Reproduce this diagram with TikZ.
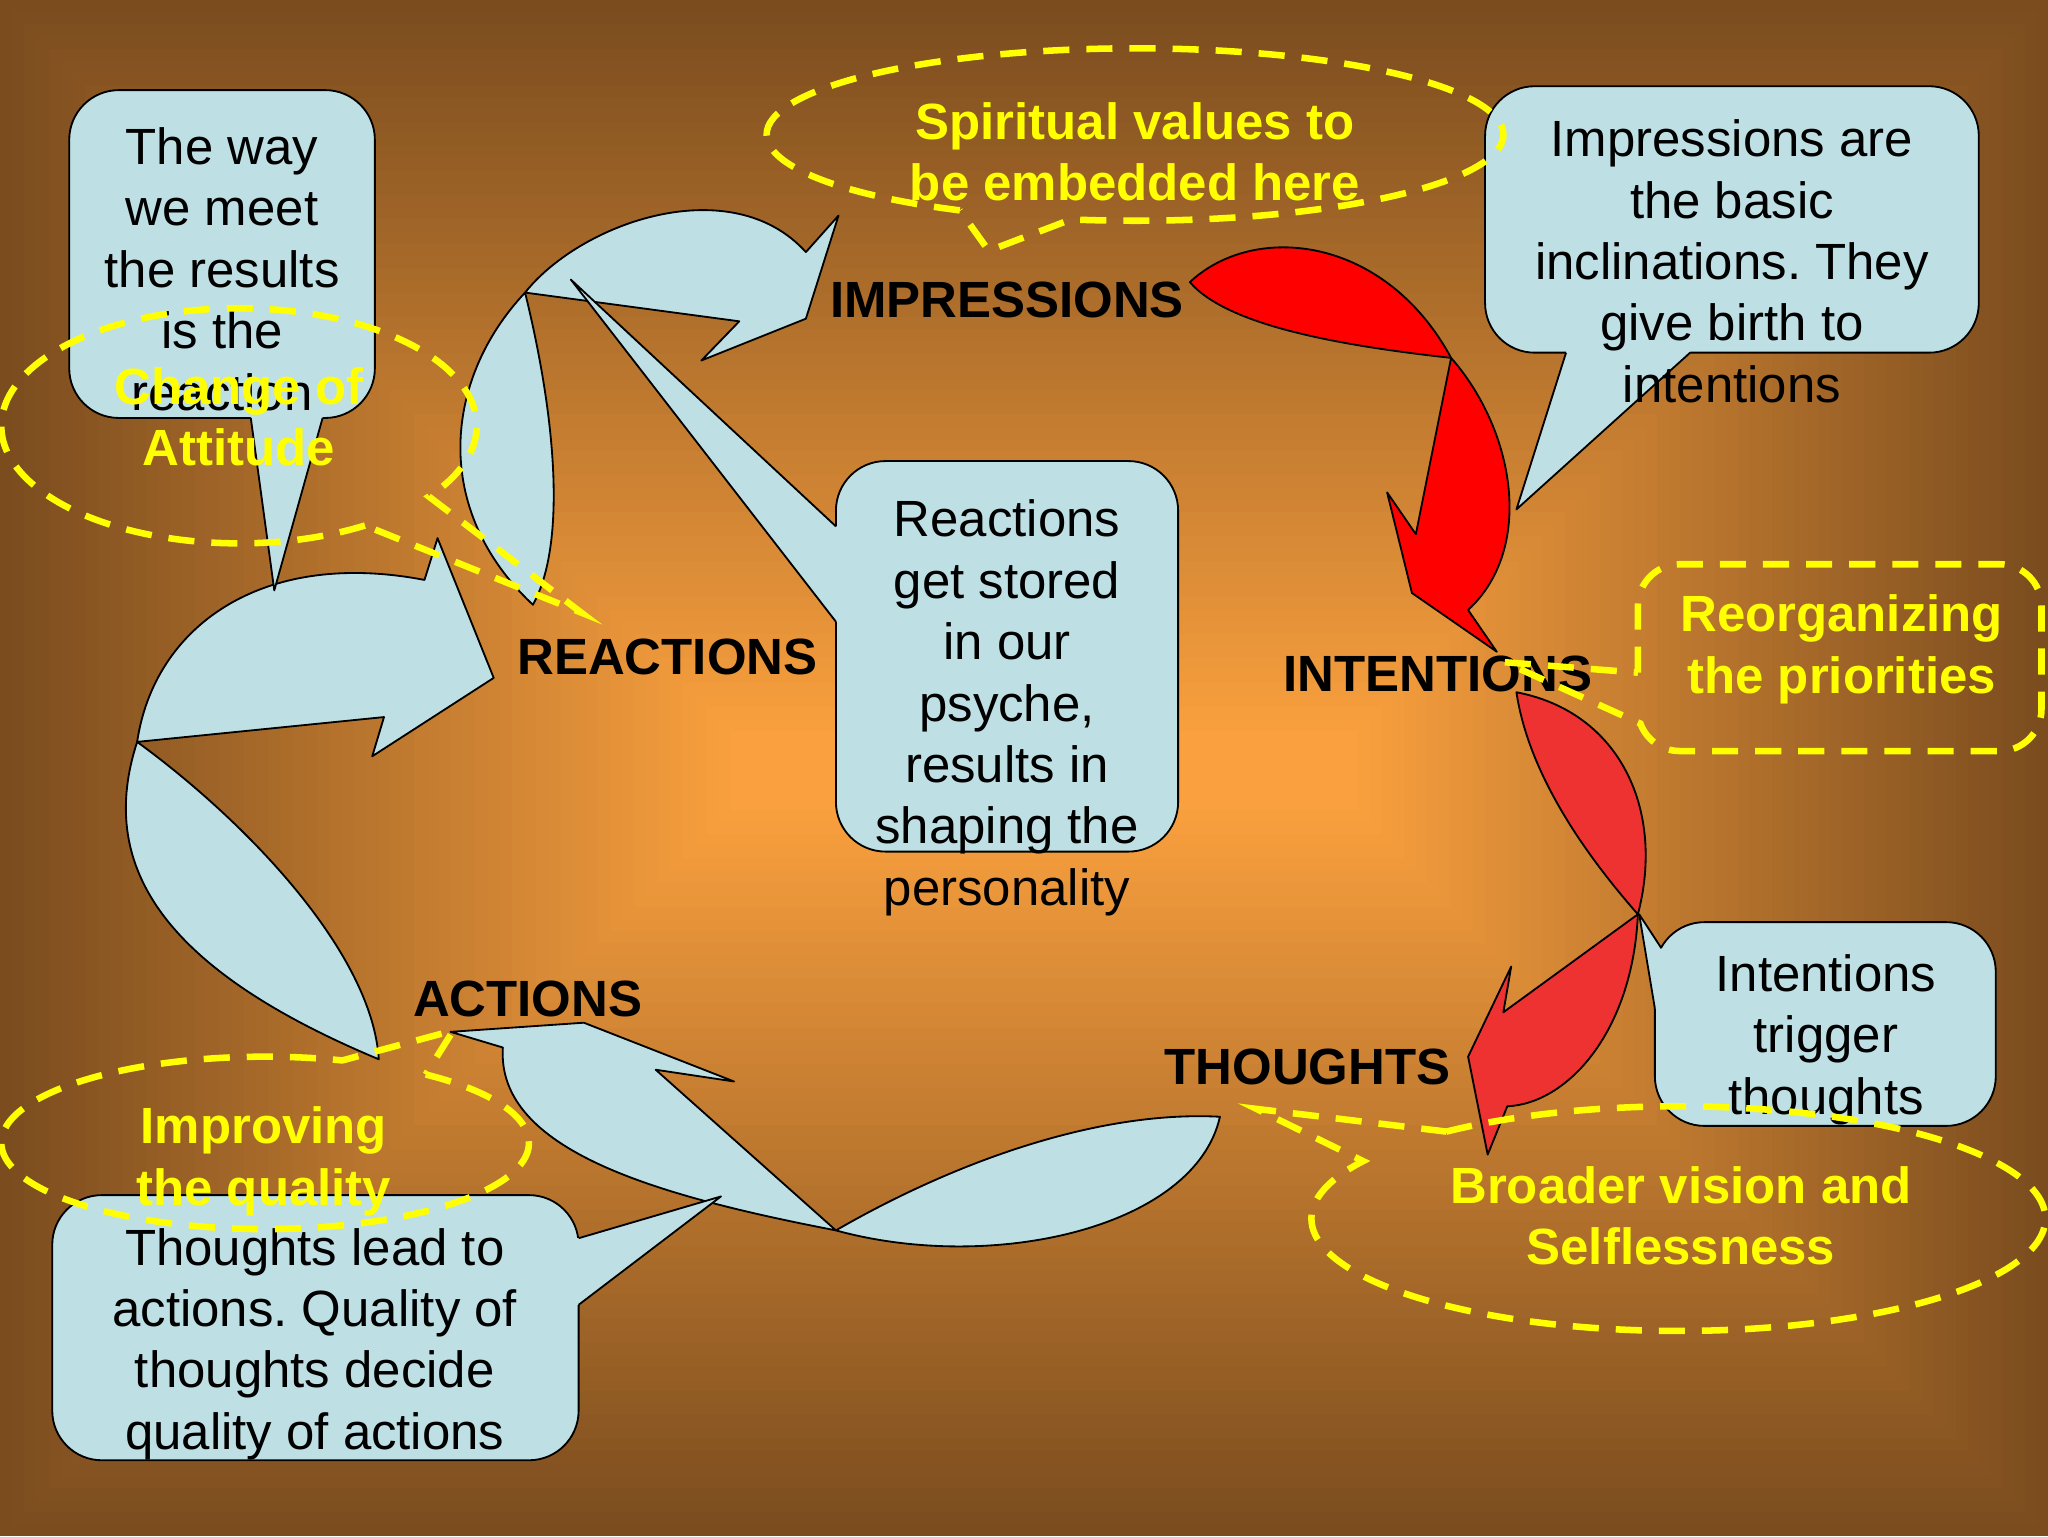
\documentclass[tikz,border=0pt]{standalone}
\usepackage{fontspec}
\setmainfont{Liberation Sans}
\frenchspacing
\definecolor{bge}{RGB}{122,76,30}
\definecolor{bgc}{RGB}{250,160,62}
\definecolor{cfill}{RGB}{190,224,228}
\definecolor{redA}{RGB}{255,0,0}
\definecolor{redB}{RGB}{238,50,50}
\definecolor{yel}{RGB}{255,255,0}
\begin{document}
\begin{tikzpicture}[x=1pt,y=-1pt,
  outl/.style={draw=black,line width=1.4pt,line join=round},
  blueshape/.style={outl,fill=cfill},
  redshapeA/.style={outl,fill=redA},
  redshapeB/.style={outl,fill=redB},
  calloutbox/.style={outl,fill=cfill,rounded corners=38pt},
  tailfill/.style={fill=cfill},
  tailline/.style={draw=black,line width=1.4pt,line join=round},
  ydash/.style={draw=yel,line width=5pt,dash pattern=on 20pt off 13pt},
  bodytext/.style={font=\fontsize{39}{47}\selectfont,align=center,inner sep=0pt,text=black},
  ytext/.style={font=\fontsize{39}{47}\selectfont\bfseries,align=center,inner sep=0pt,text=yel},
  cyclelabel/.style={font=\fontsize{39}{47}\selectfont\bfseries,inner sep=0pt,text=black}]
\useasboundingbox (0,0) rectangle (1568,1176);
% background: rectangular gradient
\fill[bge] (0,0) rectangle (1568,1176);
\foreach \i in {1,...,60}{
  \pgfmathsetmacro\t{\i/60}
  \pgfmathsetmacro\pc{100*\t}
  \pgfmathsetmacro\xa{560*\t}
  \pgfmathsetmacro\ya{560*\t}
  \pgfmathsetmacro\xb{1568-528*\t}
  \pgfmathsetmacro\yb{1176-556*\t}
  \fill[bgc!\pc!bge] (\xa,\ya) rectangle (\xb,\yb);
}
% light blue cycle shapes
\path[blueshape] (105,568) .. controls (118,480) and (200,420) .. (325,444)
  -- (335,412) -- (378,519) -- (285,579) -- (294,549) -- cycle;
\path[blueshape] (105,568) .. controls (75,660) and (120,740) .. (290,811)
  .. controls (285,730) and (190,630) .. (105,568) -- cycle;
\path[blueshape] (402,224) .. controls (445,170) and (560,130) .. (617,193)
  -- (642,165) -- (617,244) -- (537,276) -- (566,246) -- cycle;
\path[blueshape] (402,224) .. controls (340,290) and (330,390) .. (408,463)
  .. controls (432,420) and (428,330) .. (402,224) -- cycle;
\path[blueshape] (345,790) -- (447,783) -- (562,828) -- (502,819) -- (640,942)
  .. controls (500,915) and (380,880) .. (385,802) -- cycle;
\path[blueshape] (640,942) .. controls (730,890) and (840,850) .. (934,855)
  .. controls (915,940) and (760,975) .. (640,942) -- cycle;
% callout boxes
\path[calloutbox] (53,69) rectangle (287,320);
\fill[tailfill] (192,320) -- (210,452) -- (247,320) -- (247,312) -- (192,312) -- cycle;
\draw[tailline] (192,320) -- (210,452) -- (247,320);
\path[calloutbox] (1137,66) rectangle (1515,270);
\fill[tailfill] (1199,270) -- (1161,390) -- (1294,270) -- (1294,262) -- (1199,262) -- cycle;
\draw[tailline] (1199,270) -- (1161,390) -- (1294,270);
\path[calloutbox] (640,353) rectangle (902,652);
\fill[tailfill] (640,403) -- (437,214) -- (640,476) -- (648,476) -- (648,403) -- cycle;
\draw[tailline] (640,403) -- (437,214) -- (640,476);
\path[calloutbox] (1267,706) rectangle (1528,862);
\fill[tailfill] (1272,726) -- (1255,700) -- (1267,772) -- (1275,772) -- (1279,730) -- cycle;
\draw[tailline] (1272,726) -- (1255,700) -- (1267,772);
\path[calloutbox] (40,915) rectangle (443,1118);
\fill[tailfill] (443,948) -- (552,916) -- (443,999) -- (435,999) -- (435,948) -- cycle;
\draw[tailline] (443,948) -- (552,916) -- (443,999);
% red shapes
\path[redshapeA] (911,216) .. controls (960,170) and (1060,180) .. (1111,274)
  .. controls (1030,265) and (940,250) .. (911,216) -- cycle;
\path[redshapeA] (1111,274) .. controls (1160,330) and (1175,420) .. (1124,467)
  -- (1146,499) -- (1081,454) -- (1062,377) -- (1084,409) -- cycle;
\path[redshapeB] (1161,530) .. controls (1240,545) and (1275,620) .. (1254,700)
  .. controls (1210,650) and (1170,590) .. (1161,530) -- cycle;
\path[redshapeB] (1254,700) .. controls (1250,790) and (1200,845) .. (1154,847)
  -- (1139,884) -- (1124,809) -- (1157,740) -- (1151,775) -- cycle;
% texts in callouts
\node[bodytext] (tA) at (170,206) {The way\\we meet\\the results\\is the\\reaction};
\node[bodytext] (tB) at (1326,200) {Impressions are\\the basic\\inclinations. They\\give birth to\\intentions};
\node[bodytext] (tC) at (771,542) {Reactions\\get stored\\in our\\psyche,\\results in\\shaping the\\personality};
\node[bodytext] (tD) at (1398,796) {Intentions\\trigger\\thoughts};
\node[bodytext] (tE) at (241,1029) {Thoughts lead to\\actions. Quality of\\thoughts decide\\quality of actions};
% cycle labels
\node[cyclelabel] (lImp) at (771,230) {IMPRESSIONS};
\node[cyclelabel] (lRea) at (511,503) {REACTIONS};
\node[cyclelabel] (lInt) at (1101,516) {INTENTIONS};
\node[cyclelabel] (lAct) at (404,765) {ACTIONS};
\node[cyclelabel] (lTho) at (1001,817) {THOUGHTS};
% yellow dashed callouts
\draw[ydash] (869,103) ++(118.4:282 and 66) arc[start angle=118.4,end angle=460,x radius=282,y radius=66] -- (757,192) -- cycle;
\draw[ydash] (183,326) ++(58:182 and 90) arc[start angle=58,end angle=397,x radius=182,y radius=90] -- (445,469) -- cycle;
\draw[ydash] (203,875) ++(307.5:202 and 66) arc[start angle=307.5,end angle=647,x radius=202,y radius=66] -- (347,789) -- cycle;
\draw[ydash] (1285,933) ++(230.8:281 and 86) arc[start angle=230.8,end angle=570.8,x radius=281,y radius=86] -- (962,849) -- cycle;
\draw[ydash] (1254,515) -- (1254,464) arc[start angle=180,end angle=270,radius=32]
  -- (1531,432) arc[start angle=270,end angle=360,radius=32]
  -- (1563,543) arc[start angle=0,end angle=90,radius=32]
  -- (1286,575) arc[start angle=90,end angle=160,radius=32] -- (1152,507) -- cycle;
% yellow texts
\node[ytext] (ySp) at (869,116) {Spiritual values to\\be embedded here};
\node[ytext] (yCh) at (183,319) {Change of\\Attitude};
\node[ytext] (yRe) at (1410,497) {Reorganizing\\the priorities};
\node[ytext] (yIm) at (202,889) {Improving\\the quality};
\node[ytext] (yBr) at (1287,931) {Broader vision and\\Selflessness};
\end{tikzpicture}
\end{document}
